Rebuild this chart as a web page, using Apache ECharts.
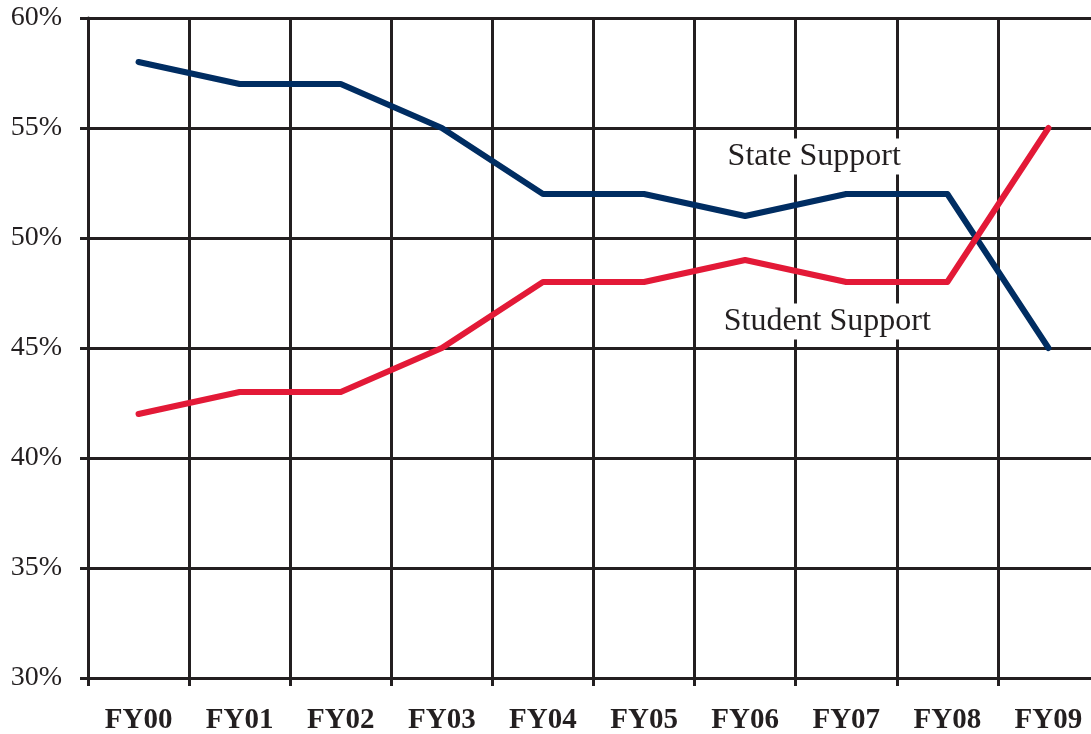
<!DOCTYPE html>
<html>
<head>
<meta charset="utf-8">
<script src="https://cdn.jsdelivr.net/npm/echarts@6/dist/echarts.min.js"></script>
<style>
  html, body { margin: 0; padding: 0; background: #fff; }
  #chart { width: 1091px; height: 734px; }
</style>
</head>
<body>
<div id="chart"></div>
<script>
// 财政年度
const years = ['FY00', 'FY01', 'FY02', 'FY03', 'FY04', 'FY05', 'FY06', 'FY07', 'FY08', 'FY09']
// 州政府支持 / 学生支持 (%)
const stateSupport = [58, 57, 57, 55, 52, 52, 51, 52, 52, 45]
const studentSupport = [42, 43, 43, 45, 48, 48, 49, 48, 48, 55]
// 文字标注的位置（数据坐标）
const stateLabelAt = ['FY07', 53.7]
const studentLabelAt = ['FY07', 46.2]

const serif = 'Liberation Serif'
const gridColor = '#231f20'

const myEcharts = echarts.init(document.getElementById('chart'))

function textMark(name, at, dx) {
  return {
    symbol: 'rect',
    symbolSize: 1,
    itemStyle: { color: 'rgba(0,0,0,0)' },
    label: {
      show: true,
      position: 'inside',
      offset: [dx, 0],
      formatter: name,
      fontFamily: serif,
      fontSize: 32,
      color: '#231f20',
      backgroundColor: '#fff',
      padding: [2, 4]
    },
    data: [{ coord: at }]
  }
}

const options = {
  animation: false,
  backgroundColor: '#fff',
  // 右侧最后一格超出画布
  grid: { left: 88, top: 18, width: 1011, height: 660, outerBoundsMode: 'none', containLabel: false },
  xAxis: {
    type: 'category',
    data: years,
    boundaryGap: true,
    axisLine: { lineStyle: { color: gridColor, width: 3 } },
    axisTick: { show: true, length: 8, lineStyle: { color: gridColor, width: 3 } },
    splitLine: { show: true, lineStyle: { color: gridColor, width: 3 } },
    axisLabel: {
      margin: 28,
      fontFamily: serif,
      fontWeight: 'bold',
      fontSize: 29,
      color: '#231f20'
    }
  },
  yAxis: {
    type: 'value',
    min: 30,
    max: 60,
    interval: 5,
    axisLine: { show: true, lineStyle: { color: gridColor, width: 3 } },
    axisTick: { show: true, length: 8, lineStyle: { color: gridColor, width: 3 } },
    splitLine: { show: true, lineStyle: { color: gridColor, width: 3 } },
    axisLabel: {
      margin: 26,
      formatter: '{value}%',
      fontFamily: serif,
      fontSize: 28,
      color: '#231f20'
    }
  },
  series: [
    {
      // 州政府支持
      name: 'State Support',
      type: 'line',
      data: stateSupport,
      symbol: 'none',
      lineStyle: { color: '#002d62', width: 6, cap: 'round', join: 'round' },
      markPoint: textMark('State Support', stateLabelAt, -32)
    },
    {
      // 学生支持
      name: 'Student Support',
      type: 'line',
      data: studentSupport,
      symbol: 'none',
      lineStyle: { color: '#e31937', width: 6, cap: 'round', join: 'round' },
      markPoint: textMark('Student Support', studentLabelAt, -19)
    }
  ]
}
options && myEcharts.setOption(options)
</script>
</body>
</html>
